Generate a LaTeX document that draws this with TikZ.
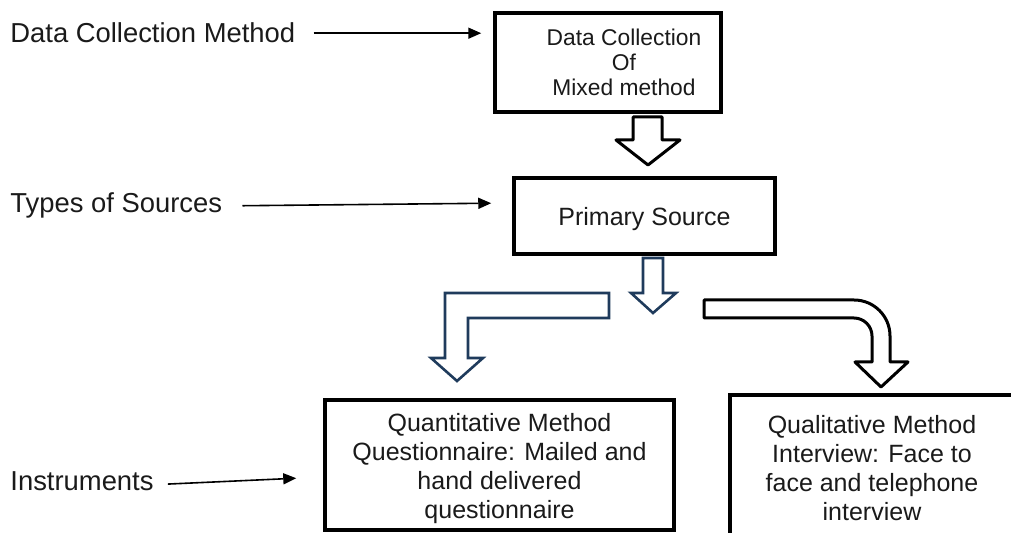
\documentclass[tikz,border=0pt]{standalone}
\usepackage{fontspec}
\setmainfont{Liberation Sans}
\usetikzlibrary{arrows.meta}
\definecolor{ink}{HTML}{1A1A1A}
\definecolor{navy}{HTML}{1F3B5C}
\begin{document}
\begin{tikzpicture}[x=0.5pt,y=-0.5pt,
 lab/.style={anchor=base west, inner sep=0pt, font=\fontsize{13.7}{16}\selectfont, text=ink},
 box/.style={draw=black, line width=1.75pt, inner sep=0pt},
 boxtext/.style={align=center, inner sep=0pt, text=ink},
 bigtext/.style={font=\fontsize{12.5}{14.5}\selectfont},
 smalltext/.style={font=\fontsize{11.4}{12.5}\selectfont},
 pointer/.style={line width=0.8pt, -{Triangle[length=6.5pt,width=5.5pt]}},
 blockblack/.style={draw=black, line width=1.5pt, fill=white, line join=round},
 blockblue/.style={draw=navy, line width=1.3pt, fill=white, line join=miter}]
\clip (0,0) rectangle (1011,533);

% labels
\node[lab] (lab1) at (10,43) {Data Collection Method};
\node[lab] (lab2) at (10,213) {Types of Sources};
\node[lab] (lab3) at (10,490) {Instruments};

% boxes
\node[box, minimum width=113pt, minimum height=49.5pt] (box1) at (608,62.5) {};
\node[boxtext, smalltext] (box1text) at (624,62) {Data Collection\\Of\\Mixed method};
\node[box, minimum width=130.5pt, minimum height=38pt] (box2) at (644.5,216) {};
\node[boxtext, bigtext] (box2text) at (644.5,219) {Primary Source};
\node[box, minimum width=174.5pt, minimum height=65pt] (box3) at (499.5,465) {};
\node[boxtext, bigtext] (box3text) at (499.5,469)
  {Quantitative Method\\Questionnaire: Mailed and\\hand delivered\\questionnaire};
\node[box, minimum width=142pt, minimum height=82.5pt] (box4) at (872,477.5) {};
\node[boxtext, bigtext] (box4text) at (872,468)
  {Qualitative Method\\Interview: Face to\\face and telephone\\interview};

% pointer arrows
\draw[pointer, shorten <=9pt, shorten >=6pt] (lab1.east) -- (box1.west |- lab1.east);
\draw[pointer, shorten <=10pt, shorten >=10.5pt] (lab2.east) -- ([yshift=6.5pt]box2.west);
\draw[pointer, shorten <=7pt, shorten >=13.5pt] ([yshift=-2pt]lab3.east) -- ([yshift=-6pt]box3.west);

% block arrow box1 -> box2
\draw[blockblack] (633,117) -- (662,117) -- (662,140) -- (680,140) -- (648,165)
  -- (616,140) -- (633,140) -- cycle;

% blue straight down arrow
\draw[blockblue] (643,258) -- (663,258) -- (663,293) -- (676,293) -- (653,313)
  -- (631,293) -- (643,293) -- cycle;

% blue L-shaped arrow
\draw[blockblue] (609,293) -- (445,293) -- (445,358) -- (431,358) -- (457,381)
  -- (483,358) -- (468,358) -- (468,318) -- (609,318) -- cycle;

% black curved arrow
\draw[blockblack] (704,300) -- (854,300) .. controls (873.9,300) and (890,316.1) .. (890,336)
  -- (890,362) -- (908,362) -- (881,387) -- (855,362) -- (872,362) -- (872,336)
  .. controls (872,326.1) and (863.9,318) .. (854,318) -- (704,318) -- cycle;
\end{tikzpicture}
\end{document}
